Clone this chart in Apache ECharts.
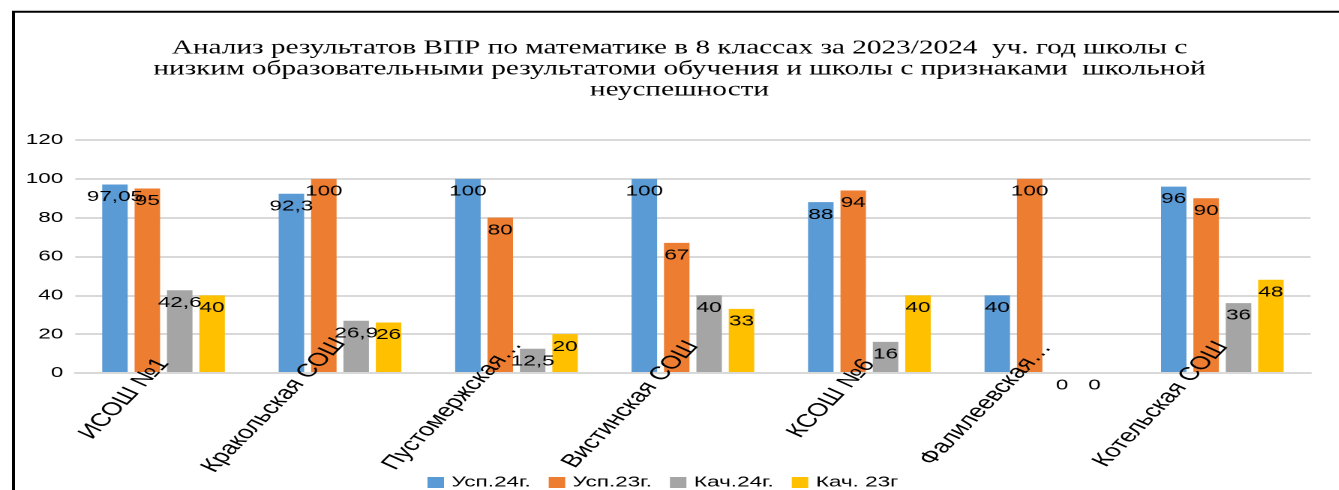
<!DOCTYPE html>
<html>
<head>
<meta charset="utf-8">
<script src="https://cdn.jsdelivr.net/npm/echarts@6/dist/echarts.min.js"></script>
<style>
  html, body { margin: 0; padding: 0; background: #fff; overflow: hidden; }
  /* исходная диаграмма растянута по ширине примерно в 1,5 раза */
  #chart { width: 893px; height: 490px; transform: scaleX(1.5); transform-origin: 0 0; }
</style>
</head>
<body>
<div id="chart"></div>
<script>
// школы
const schools = ['ИСОШ №1', 'Кракольская СОШ', 'Пустомержская…', 'Вистинская СОШ', 'КСОШ №6', 'Фалилеевская…', 'Котельская СОШ'];
const seriesNames = ['Усп.24г.', 'Усп.23г.', 'Кач.24г.', 'Кач. 23г'];
const usp24 = [97.05, 92.3, 100, 100, 88, 40, 96];
const usp23 = [95, 100, 80, 67, 94, 100, 90];
const kach24 = [42.6, 26.9, 12.5, 40, 16, 0, 36];
const kach23 = [40, 26, 20, 33, 40, 0, 48];
const yTicks = [0, 20, 40, 60, 80, 100, 120];
const colors = ['#5B9BD5', '#ED7D31', '#A5A5A5', '#FFC000'];

const font = 'Liberation Sans';
const catFontSize = 18.5;

// в оригинале длинные подписи категорий подняты выше коротких -
// сдвигаем короткие вниз через padding rich-текста
const ctx = document.createElement('canvas').getContext('2d');
ctx.font = catFontSize + 'px "' + font + '"';
const widths = schools.map(s => ctx.measureText(s).width);
const maxW = Math.max(...widths);
const rich = {};
schools.forEach((s, i) => {
  const d = 0.313 * (maxW - widths[i]);
  rich['c' + i] = {
    fontFamily: font,
    fontSize: catFontSize,
    color: '#000',
    padding: [1.11 * d, 0.832 * d, 0, 0]
  };
});
const catMargin = Math.round(389.6 - 0.313 * maxW - 373);

const chart = echarts.init(document.getElementById('chart'), null, { devicePixelRatio: 2 });

function makeSeries(name, data, color) {
  return {
    name: name,
    type: 'bar',
    data: data,
    barWidth: 17,
    barGap: '27%',
    itemStyle: { color: color },
    label: {
      show: true,
      position: 'insideTop',
      distance: 5,
      color: '#000',
      fontFamily: font,
      fontSize: 15,
      formatter: p => String(p.value).replace('.', ',')
    }
  };
}

const option = {
  animation: false,
  title: {
    text: 'Анализ результатов ВПР по математике в 8 классах за 2023/2024  уч. год школы с\nнизким образовательными результатоми обучения и школы с признаками  школьной\nнеуспешности',
    left: 448,
    top: 33,
    textAlign: 'center',
    textStyle: {
      fontFamily: 'Liberation Serif',
      fontSize: 19.5,
      fontWeight: 'normal',
      color: '#000',
      lineHeight: 21
    }
  },
  legend: {
    top: 470,
    left: 280,
    itemWidth: 11,
    itemHeight: 11,
    itemGap: 12,
    icon: 'rect',
    textStyle: { fontFamily: font, fontSize: 15, color: '#000' },
    data: seriesNames
  },
  grid: { left: 50.2, right: 19.3, top: 140, bottom: 117 },
  xAxis: {
    type: 'category',
    data: schools,
    z: 10,
    axisTick: { show: false },
    axisLine: { lineStyle: { color: '#d9d9d9', width: 2 } },
    axisLabel: {
      rotate: 56,
      margin: catMargin,
      interval: 0,
      formatter: (v, i) => '{c' + i + '|' + v + '}',
      rich: rich
    }
  },
  yAxis: {
    type: 'value',
    min: yTicks[0],
    max: yTicks[yTicks.length - 1],
    interval: 20,
    axisLine: { show: false },
    axisTick: { show: false },
    splitLine: { lineStyle: { color: '#d9d9d9', width: 2 } },
    axisLabel: { color: '#000', fontFamily: font, fontSize: 15, margin: 8 }
  },
  graphic: [{
    type: 'polyline',
    shape: { points: [[9, 490], [9, 11.7], [893, 11.7]] },
    style: { stroke: '#000', lineWidth: 2, fill: null }
  }],
  series: [
    makeSeries(seriesNames[0], usp24, colors[0]),
    makeSeries(seriesNames[1], usp23, colors[1]),
    makeSeries(seriesNames[2], kach24, colors[2]),
    makeSeries(seriesNames[3], kach23, colors[3])
  ]
};

chart.setOption(option);
</script>
</body>
</html>
